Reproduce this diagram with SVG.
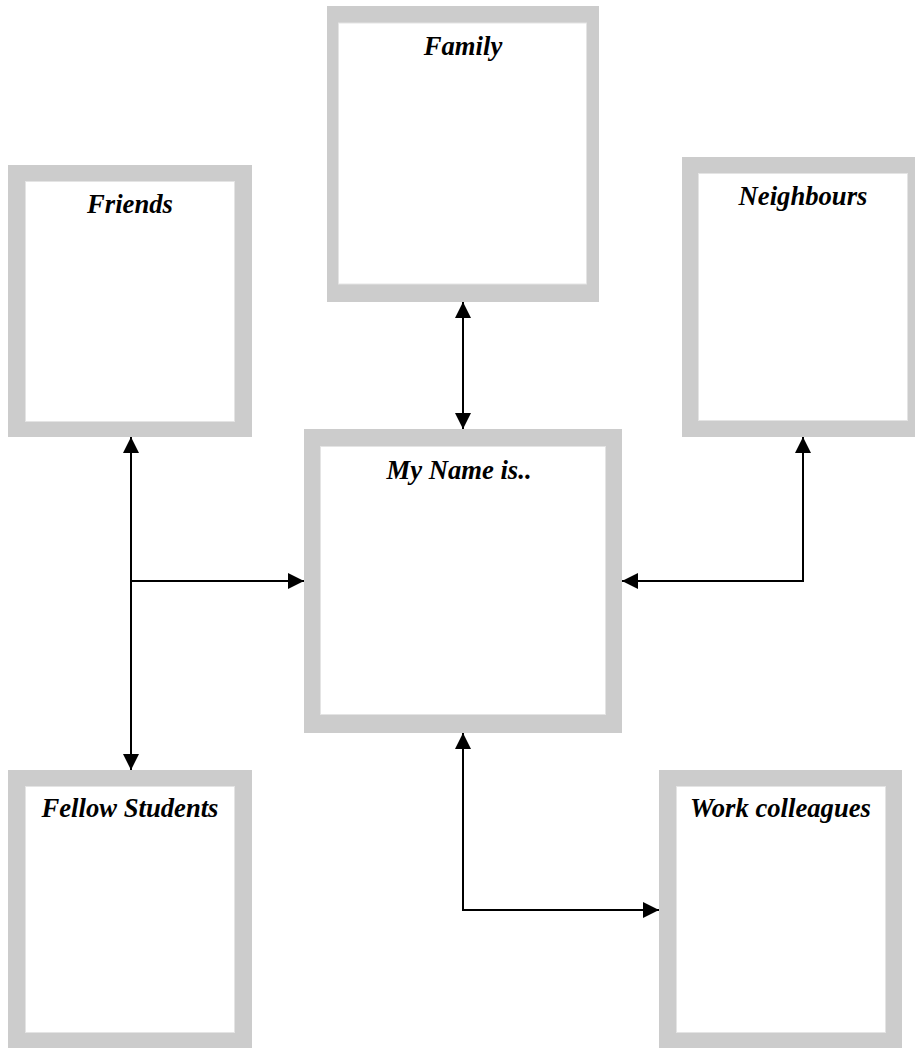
<svg xmlns="http://www.w3.org/2000/svg" width="915" height="1048" viewBox="0 0 915 1048">
<style>
.frame{fill:#cccccc}
.inner{fill:#ffffff;stroke:#e4e4e4;stroke-width:1}
.lbl{font-family:"Liberation Serif","Times New Roman",serif;font-size:26.67px;font-weight:bold;font-style:italic;fill:#000;text-anchor:middle}
.conn{fill:none;stroke:#000;stroke-width:2}
</style>
<defs>
<marker id="ah" markerUnits="userSpaceOnUse" markerWidth="16" markerHeight="16" viewBox="0 0 16 16" refX="16" refY="8" orient="auto-start-reverse">
<path d="M0,0 L16,8 L0,16 z" fill="#000"/>
</marker>
</defs>
<rect width="915" height="1048" fill="#ffffff"/>
<g id="family">
<rect class="frame" x="327" y="6" width="272" height="296"/>
<rect class="inner" x="338.5" y="23" width="248" height="261"/>
<text class="lbl" x="463" y="55">Family</text>
</g>
<g id="friends">
<rect class="frame" x="8" y="165" width="244" height="272"/>
<rect class="inner" x="25.5" y="181.5" width="209" height="240"/>
<text class="lbl" x="130" y="213">Friends</text>
</g>
<g id="neighbours">
<rect class="frame" x="682" y="157" width="242" height="280"/>
<rect class="inner" x="698.5" y="173.5" width="209" height="247"/>
<text class="lbl" x="803" y="205">Neighbours</text>
</g>
<g id="main">
<rect class="frame" x="304" y="429" width="318" height="304"/>
<rect class="inner" x="320.5" y="446.5" width="285" height="268"/>
<text class="lbl" x="459" y="479">My Name is..</text>
</g>
<g id="fellow">
<rect class="frame" x="8" y="770" width="244" height="290"/>
<rect class="inner" x="25.5" y="786.5" width="209" height="246"/>
<text class="lbl" x="130" y="817">Fellow Students</text>
</g>
<g id="work">
<rect class="frame" x="659" y="770" width="243" height="290"/>
<rect class="inner" x="676.5" y="786.5" width="209" height="246"/>
<text class="lbl" x="780.5" y="817">Work colleagues</text>
</g>
<g id="connectors">
<path class="conn" d="M463,302 V429" marker-start="url(#ah)" marker-end="url(#ah)"/>
<path class="conn" d="M131,437 V770" marker-start="url(#ah)" marker-end="url(#ah)"/>
<path class="conn" d="M131,581 H304" marker-end="url(#ah)"/>
<path class="conn" d="M622,581 H803 V437" marker-start="url(#ah)" marker-end="url(#ah)"/>
<path class="conn" d="M463,733 V910 H659" marker-start="url(#ah)" marker-end="url(#ah)"/>
</g>
</svg>
